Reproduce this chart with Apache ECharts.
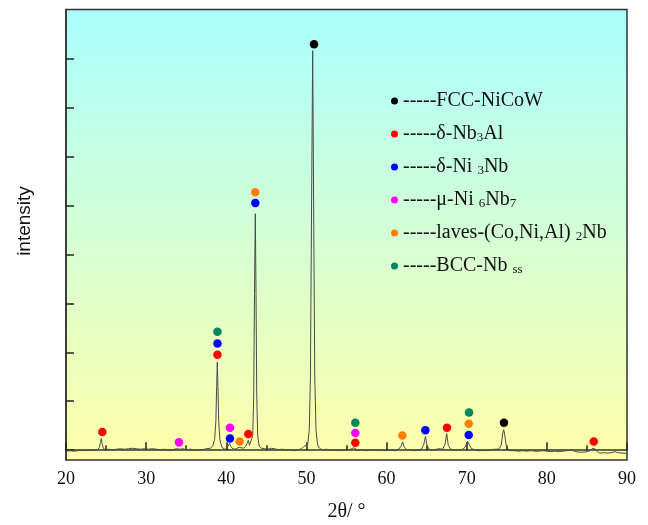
<!DOCTYPE html>
<html>
<head>
    <meta charset="UTF-8">
    <title>XRD</title>
    <script src="https://cdn.jsdelivr.net/npm/echarts@6/dist/echarts.min.js"></script>
    <style>
        html, body { margin: 0; padding: 0; background: #fff; }
    </style>
</head>
<body>
    <div id="xrd" style="width:648px; height:525px;"></div>
    <script>
        // measured pattern: [2theta, intensity (a.u.)]
        var pattern = [
            [20.0,-2],[20.5,-1],[21.0,-2],[21.5,-1],[22.0,0],[22.5,-1],[23.0,0],[23.5,0],[23.9,1],
            [24.15,5],[24.3,16],[24.4,24],[24.5,14],[24.65,4],[24.9,1],[25.3,2],[25.8,1],[26.3,2],
            [26.8,3],[27.3,2],[27.8,3],[28.3,4],[28.8,3],[29.3,2],[29.8,3],[30.3,2],[30.8,3],
            [31.3,2],[31.8,1],[32.3,2],[32.8,1],[33.3,1],[33.8,3],[34.0,4],[34.2,2],[34.6,3],
            [35.0,1],[35.5,2],[36.0,1],[36.5,0],[37.0,1],[37.5,3],[38.0,4],[38.3,8],[38.55,22],
            [38.7,60],[38.8,130],[38.88,180],[38.96,130],[39.05,60],[39.2,22],[39.45,6],[39.8,2],
            [40.1,4],[40.25,9],[40.4,14],[40.55,8],[40.8,3],[41.1,2],[41.35,4],[41.6,6],[41.8,3],
            [42.1,4],[42.4,7],[42.6,14],[42.75,20],[42.9,10],[43.1,10],[43.3,30],[43.42,110],
            [43.52,320],[43.62,483],[43.71,320],[43.8,110],[43.92,30],[44.1,8],[44.4,4],[44.8,3],
            [45.2,2],[45.6,4],[46.0,3],[46.5,1],[47.0,2],[47.5,0],[48.0,1],[48.5,-1],[49.0,1],
            [49.4,3],[49.7,8],[49.9,4],[50.15,12],[50.35,40],[50.5,150],[50.62,450],[50.78,816],
            [50.92,450],[51.04,150],[51.2,40],[51.4,10],[51.7,3],[52.0,1],[52.5,2],[53.0,0],
            [53.5,1],[54.0,-1],[54.5,0],[55.0,1],[55.5,2],[55.9,5],[56.2,2],[56.5,0],[57.0,1],
            [57.5,-1],[58.0,0],[58.5,1],[59.0,-1],[59.5,0],[60.0,-1],[60.5,0],[61.0,-1],[61.5,2],
            [61.8,8],[62.0,17],[62.2,7],[62.5,1],[63.0,0],[63.5,-1],[64.0,0],[64.4,3],[64.65,12],
            [64.85,28],[65.05,10],[65.3,2],[65.7,0],[66.0,1],[66.5,3],[67.0,2],[67.3,12],[67.5,34],
            [67.7,10],[68.0,2],[68.5,0],[69.0,1],[69.5,2],[69.8,6],[70.1,18],[70.35,10],[70.6,3],
            [71.0,1],[71.5,-1],[72.0,0],[72.5,-1],[73.0,1],[73.5,2],[74.0,2],[74.3,10],[74.5,35],
            [74.62,42],[74.75,30],[74.95,8],[75.2,1],[75.5,-1],[76.0,-1],[76.5,-2],[77.0,-1],
            [77.5,-2],[78.0,-1],[78.5,-2],[79.0,-2],[79.5,-1],[80.0,-2],[80.5,-3],[81.0,-2],
            [81.5,-3],[82.0,-2],[82.5,-1],[83.0,0],[83.3,-1],[83.6,-3],[84.0,-4],[84.5,-4],
            [85.0,-3],[85.4,-1],[85.7,4],[85.85,7],[86.0,3],[86.3,-3],[86.6,-6],[87.0,-5],
            [87.5,-6],[88.0,-5],[88.5,-3],[88.8,-5],[89.0,-6],[89.5,-6],[90.0,-7]
        ];

        // phase markers: [2theta, marker height]
        var fccNiCoW = [[50.95, 829], [74.65, 56]];
        var nb3Al = [[24.53, 37], [38.9, 195], [42.75, 33], [56.1, 15], [67.54, 46], [85.85, 18]];
        var ni3Nb = [[38.9, 218], [40.46, 24], [43.62, 505], [64.84, 41], [70.25, 31]];
        var ni6Nb7 = [[34.1, 16], [40.46, 46], [56.1, 35]];
        var laves = [[41.67, 18], [43.62, 527], [61.97, 30], [70.25, 54]];
        var bccNb = [[38.9, 242], [56.1, 56], [70.29, 77]];

        var phaseNames = ['FCC-NiCoW', 'δ-Nb3Al', 'δ-Ni3Nb', 'μ-Ni6Nb7', 'laves-(Co,Ni,Al)2Nb', 'BCC-Nbss'];
        var phaseLabels = [
            '-----FCC-NiCoW',
            '-----δ-Nb{s|3}Al',
            '-----δ-Ni {s|3}Nb',
            '-----μ-Ni {s|6}Nb{s|7}',
            '-----laves-(Co,Ni,Al) {s|2}Nb',
            '-----BCC-Nb {s|ss}'
        ];
        var phaseData = [fccNiCoW, nb3Al, ni3Nb, ni6Nb7, laves, bccNb];
        var phaseColors = ['#000000', '#ff0000', '#0000ff', '#ff00ff', '#ff8000', '#00875f'];

        var xTicks = [20, 30, 40, 50, 60, 70, 80, 90];
        var yTicks = [0, 100, 200, 300, 400, 500, 600, 700, 800];

        var chart = echarts.init(document.getElementById('xrd'), null, {renderer: 'canvas'});

        var series = [{
            type: 'line',
            data: pattern,
            showSymbol: false,
            silent: true,
            z: 2,
            lineStyle: {color: '#4a4a4a', width: 1}
        }];
        phaseNames.forEach(function (name, i) {
            series.push({
                type: 'scatter',
                name: name,
                data: phaseData[i],
                symbol: 'circle',
                symbolSize: 8.5,
                z: 3,
                itemStyle: {color: phaseColors[i], opacity: 1}
            });
        });

        chart.setOption({
            animation: false,
            grid: {
                left: 66, right: 21, top: 9.5, bottom: 65,
                outerBoundsMode: 'none',
                show: true,
                borderColor: '#333',
                borderWidth: 1.5,
                backgroundColor: new echarts.graphic.LinearGradient(0, 0, 0, 1, [
                    {offset: 0, color: '#aaffff'},
                    {offset: 1, color: '#ffffaa'}
                ])
            },
            legend: {
                data: phaseNames,
                orient: 'vertical',
                left: 386,
                top: 86,
                icon: 'circle',
                itemWidth: 7,
                itemHeight: 7,
                itemGap: 13,
                selectedMode: false,
                itemStyle: {opacity: 1},
                formatter: function (name) {
                    return phaseLabels[phaseNames.indexOf(name)];
                },
                textStyle: {
                    fontFamily: 'Liberation Serif',
                    fontSize: 20,
                    color: '#111',
                    lineHeight: 20,
                    rich: {
                        s: {fontFamily: 'Liberation Serif', fontSize: 13, color: '#111', lineHeight: 5, verticalAlign: 'bottom'}
                    }
                }
            },
            xAxis: {
                type: 'value',
                min: xTicks[0],
                max: xTicks[xTicks.length - 1],
                interval: 10,
                name: '2θ/ °',
                nameLocation: 'middle',
                nameGap: 42,
                nameTextStyle: {fontFamily: 'Liberation Serif', fontSize: 20, color: '#111'},
                axisLine: {lineStyle: {color: '#333', width: 1.5}},
                axisTick: {inside: true, length: 8, lineStyle: {color: '#222', width: 1.5}},
                minorTick: {show: true, splitNumber: 2, length: 5, lineStyle: {color: '#222', width: 1.5}},
                axisLabel: {margin: 10, fontFamily: 'Liberation Serif', fontSize: 18, color: '#111'},
                splitLine: {show: false}
            },
            yAxis: {
                type: 'value',
                min: -20,
                max: 900,
                axisLine: {show: true, lineStyle: {color: '#333', width: 1.5}},
                axisTick: {show: true, inside: true, length: 8, customValues: yTicks, lineStyle: {color: '#222', width: 1.5}},
                axisLabel: {show: false},
                splitLine: {show: false}
            },
            graphic: [{
                type: 'text',
                x: 25,
                y: 221,
                rotation: Math.PI / 2,
                style: {
                    text: 'intensity',
                    fontFamily: 'Liberation Sans',
                    fontSize: 19,
                    fill: '#111',
                    align: 'center',
                    verticalAlign: 'middle'
                }
            }],
            series: series
        });
    </script>
</body>
</html>
